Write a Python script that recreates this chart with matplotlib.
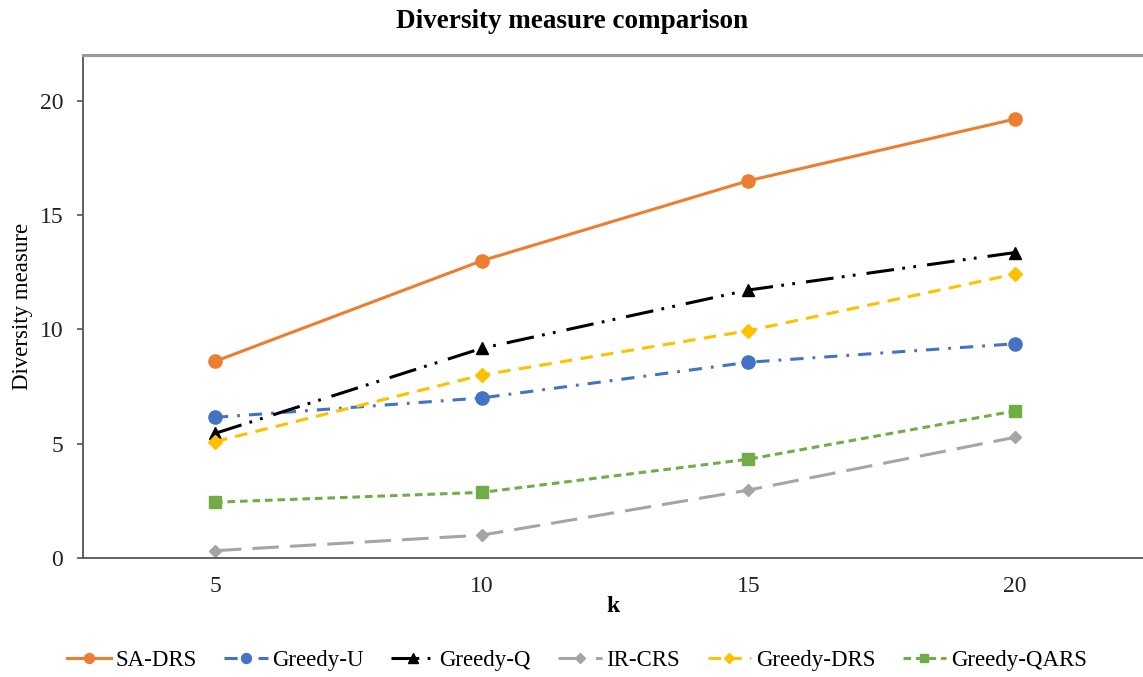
import matplotlib
matplotlib.use("Agg")
import matplotlib.pyplot as plt

plt.rcParams["font.family"] = ["Liberation Serif", "DejaVu Serif"]
plt.rcParams["lines.scale_dashes"] = False

k_values = [5, 10, 15, 20]
series_names = ["SA-DRS", "Greedy-U", "Greedy-Q", "IR-CRS", "Greedy-DRS", "Greedy-QARS"]
sa_drs = [8.6, 13.0, 16.5, 19.2]
greedy_u = [6.15, 7.0, 8.56, 9.37]
greedy_q = [5.45, 9.17, 11.72, 13.36]
ir_crs = [0.32, 1.0, 2.97, 5.28]
greedy_drs = [5.09, 8.0, 9.94, 12.42]
greedy_qars = [2.44, 2.87, 4.32, 6.43]
y_ticks = [0, 5, 10, 15, 20]

styles = [
    dict(color="#ED7D31", ls="-", marker="o", ms=9.5),
    dict(color="#4472C4", ls=(0, (9.5, 6.5, 2, 6.5)), marker="o", ms=9.5),
    dict(color="#000000", ls=(0, (20, 6, 2, 6, 2, 8)), marker="^", ms=9),
    dict(color="#A5A5A5", ls=(0, (19, 8)), marker="D", ms=6.5),
    dict(color="#FFC000", ls=(0, (9, 6)), marker="D", ms=7),
    dict(color="#70AD47", ls=(0, (5.5, 3.5)), marker="s", ms=8.5),
]
data = [sa_drs, greedy_u, greedy_q, ir_crs, greedy_drs, greedy_qars]

fig = plt.figure(figsize=(11.43, 6.77), dpi=100)
ax = fig.add_axes([83 / 1143, 1 - 558 / 677, 1 - 83 / 1143, (558 - 55) / 677])

for name, vals, st in zip(series_names, data, styles):
    ax.plot(k_values, vals, label=name, color=st["color"], linestyle=st["ls"],
            marker=st["marker"], markersize=st["ms"], linewidth=2.2,
            markeredgecolor=st["color"], markerfacecolor=st["color"])

ax.set_xlim(2.525, 22.4)
ax.set_ylim(0, 22)
ax.set_xticks(k_values)
ax.set_yticks(y_ticks)
ax.tick_params(axis="x", length=0, pad=13, labelsize=17, colors="#222222")
ax.tick_params(axis="y", length=4.3, width=1.2, direction="out", pad=10,
               labelsize=17, colors="#555555", labelcolor="#222222")

for side in ("left", "bottom"):
    ax.spines[side].set_color("#555555")
    ax.spines[side].set_linewidth(1.3)
ax.spines["top"].set_color("#999999")
ax.spines["top"].set_linewidth(2.2)
ax.spines["right"].set_visible(False)

ax.set_xlabel("k", fontsize=17, fontweight="bold")
ax.xaxis.set_label_coords(0.5, -(607 - 558) / 503)
ax.xaxis.label.set_va("center")
ax.set_ylabel("Diversity measure", fontsize=16.5)
ax.yaxis.set_label_coords(-(83 - 23) / 1060, 0.5)
ax.yaxis.label.set_va("center")
fig.suptitle("Diversity measure comparison", fontsize=19.5, fontweight="bold",
             y=1 - 21 / 677, va="center")

ax.legend(loc="center", bbox_to_anchor=(577 / 1143, 1 - 660 / 677),
          bbox_transform=fig.transFigure, ncol=6, frameon=False,
          fontsize=16.5, handlelength=1.9, columnspacing=1.2, handletextpad=0.2,
          markerscale=0.75)

fig.savefig("out.png", dpi=100)
